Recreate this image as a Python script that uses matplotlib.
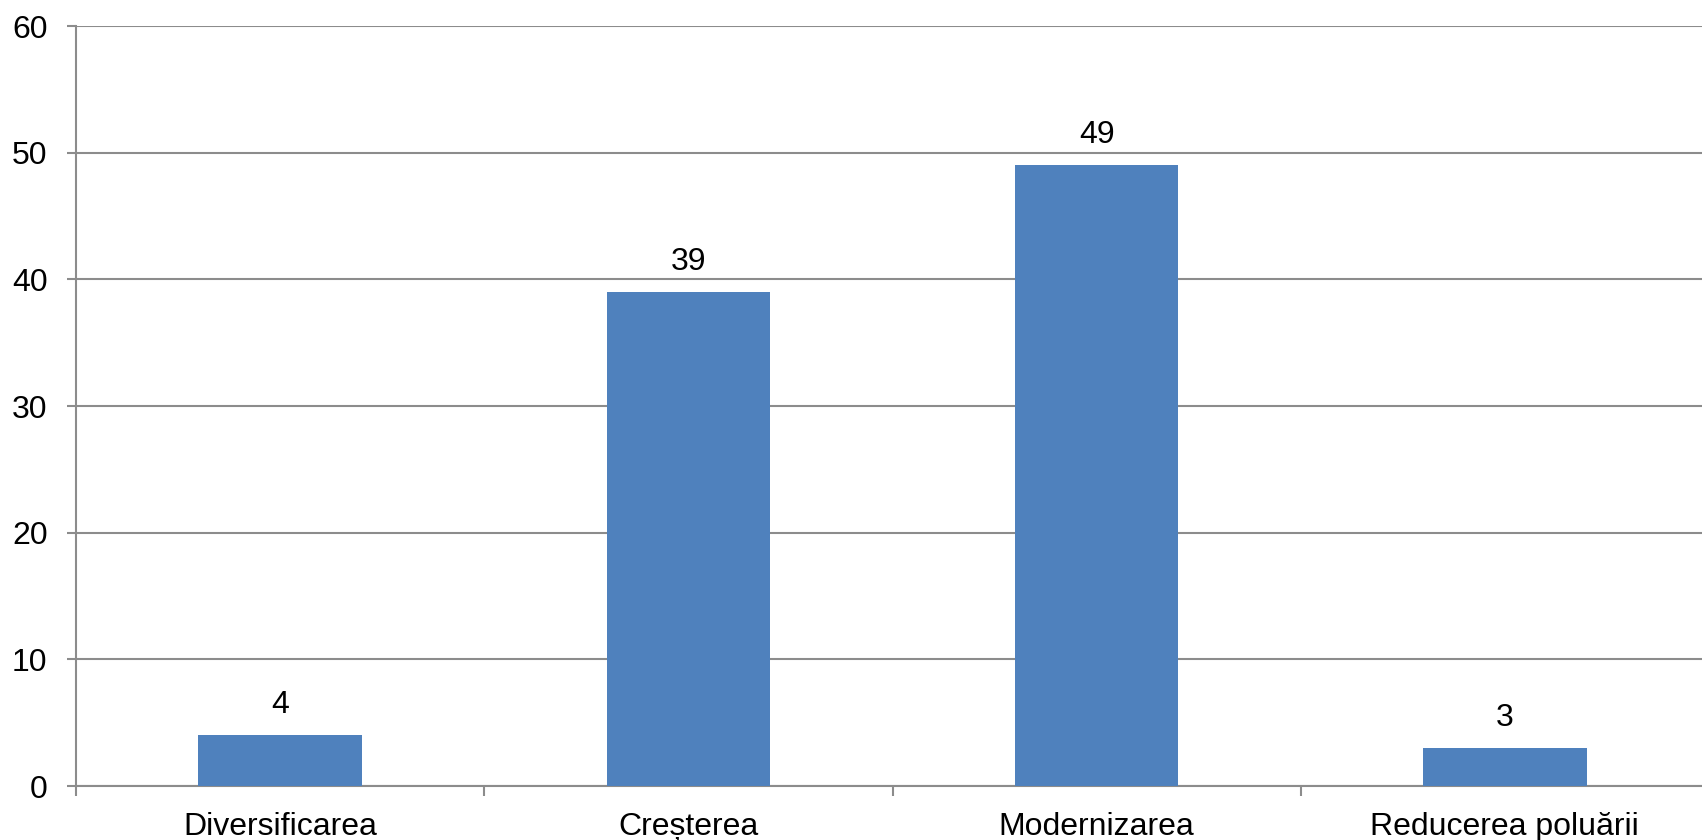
import matplotlib
matplotlib.use('Agg')
from matplotlib import pyplot as plt

categories = ['Diversificarea', 'Creșterea', 'Modernizarea', 'Reducerea poluării']
values = [4, 39, 49, 3]
yticks = [0, 10, 20, 30, 40, 50, 60]

plt.rcParams['font.family'] = ['Liberation Sans', 'DejaVu Sans']

fig = plt.figure(figsize=(17.02, 8.40), dpi=100)
ax = fig.add_axes([76 / 1702, 54 / 840, 1633 / 1702, 760 / 840])

pos = list(range(len(categories)))
bars = ax.bar(pos, values, width=0.4, color='#4F81BD', zorder=3)
ax.bar_label(bars, labels=[str(v) for v in values], padding=11, fontsize=23)

ax.set_xlim(-0.5, len(categories) - 0.5)
ax.set_ylim(0, 60)
ax.set_yticks(yticks)
ax.yaxis.grid(True, color='#8c8c8c', linewidth=1.5, zorder=0)

# labels at the bar centres, tick marks on the category borders
ax.set_xticks(pos, categories, fontsize=23)
ax.set_xticks([p - 0.5 for p in pos] + [len(pos) - 0.5], minor=True)
ax.tick_params(axis='x', which='major', length=0, pad=19)
ax.tick_params(axis='x', which='minor', length=7.5, width=1.5, color='#8c8c8c')
ax.tick_params(axis='y', length=6.5, width=1.5, color='#8c8c8c', pad=14, labelsize=23)

for side in ('top', 'right'):
    ax.spines[side].set_visible(False)
for side in ('left', 'bottom'):
    ax.spines[side].set_color('#8c8c8c')
    ax.spines[side].set_linewidth(1.5)

fig.savefig('out.png', dpi=100)
